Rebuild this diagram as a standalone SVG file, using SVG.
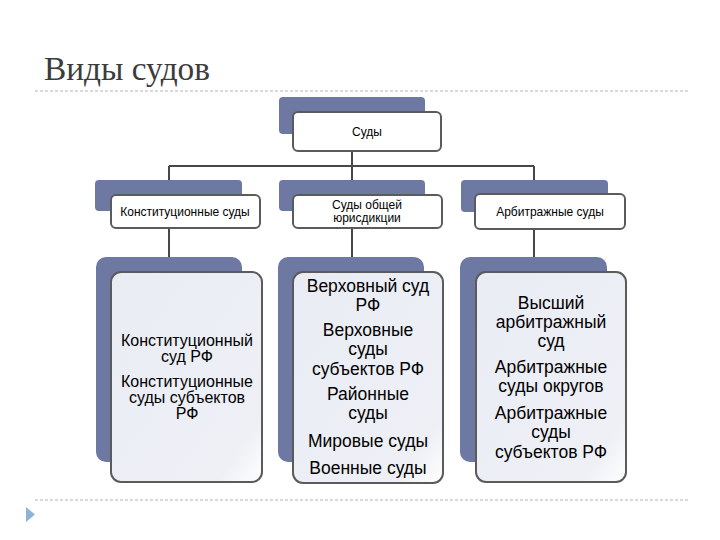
<svg xmlns="http://www.w3.org/2000/svg" width="720" height="540" viewBox="0 0 720 540">
<defs>
<linearGradient id="g" x1="0" y1="0" x2="1" y2="1">
<stop offset="0" stop-color="#eaecf4"/>
<stop offset="0.85" stop-color="#eef0f6"/>
<stop offset="1" stop-color="#ffffff"/>
</linearGradient>
</defs>
<style>
.back{fill:#6d79a2}
.front{fill:url(#g);stroke:#5b5b5b;stroke-width:2}
.front2{fill:#ffffff;stroke:#5b5b5b;stroke-width:2}
.conn{stroke:#474747;stroke-width:2;fill:none}
.dash{stroke:#b5b5b5;stroke-width:1;stroke-dasharray:3 2;fill:none}
.t{font-family:"Liberation Sans",Arial,sans-serif;fill:#000;text-anchor:middle}
.s{font-size:12px}
.m{font-size:16px}
.l{font-size:17.5px}
</style>
<rect width="720" height="540" fill="#ffffff"/>
<text x="44" y="80" font-family="Liberation Serif,serif" font-size="33" fill="#3c3c3c" textLength="166" lengthAdjust="spacingAndGlyphs">Виды судов</text>
<line class="dash" x1="35" y1="91" x2="690" y2="91"/>
<line class="dash" x1="35" y1="500" x2="690" y2="500"/>
<polygon points="26,507 35,514.5 26,522" fill="#8db3d6"/>

<g id="connectors">
<path class="conn" d="M352,151 V166 M169,166 H534 M169,166 V195 M352,166 V195 M534,166 V194"/>
<path class="conn" d="M169,228 V272 M352,228 V272 M534,229 V272"/>
</g>

<g id="n-root">
<rect class="back" x="279" y="97" width="146" height="37" rx="4"/>
<rect class="front2" x="293" y="112" width="148" height="39" rx="5"/>
<text class="t s" x="367" y="136">Суды</text>
</g>

<g id="n-const">
<rect class="back" x="95" y="180" width="147" height="31" rx="4"/>
<rect class="front2" x="111" y="195" width="149" height="33" rx="5"/>
<text class="t s" x="185" y="216">Конституционные суды</text>
</g>

<g id="n-general">
<rect class="back" x="279" y="180" width="146" height="31" rx="4"/>
<rect class="front2" x="293" y="195" width="149" height="33" rx="5"/>
<text class="t s" x="367" y="209">Суды общей</text>
<text class="t s" x="367" y="222">юрисдикции</text>
</g>

<g id="n-arb">
<rect class="back" x="461" y="180" width="147" height="32" rx="4"/>
<rect class="front2" x="475" y="194" width="150" height="35" rx="5"/>
<text class="t s" x="550" y="216">Арбитражные суды</text>
</g>

<g id="n-const-list">
<rect class="back" x="96" y="257" width="146" height="205" rx="10"/>
<rect class="front" x="111" y="272" width="151" height="210" rx="10"/>
<g class="t m">
<text x="187" y="346">Конституционный</text>
<text x="187" y="362">суд РФ</text>
<text x="187" y="387">Конституционные</text>
<text x="187" y="403">суды субъектов</text>
<text x="187" y="419">РФ</text>
</g>
</g>

<g id="n-general-list">
<rect class="back" x="278" y="257" width="146" height="205" rx="10"/>
<rect class="front" x="293" y="272" width="150" height="211" rx="10"/>
<g class="t l">
<text x="368" y="292">Верховный суд</text>
<text x="368" y="311">РФ</text>
<text x="368" y="336">Верховные</text>
<text x="368" y="355">суды</text>
<text x="368" y="375">субъектов РФ</text>
<text x="368" y="400">Районные</text>
<text x="368" y="419">суды</text>
<text x="368" y="447">Мировые суды</text>
<text x="368" y="474">Военные суды</text>
</g>
</g>

<g id="n-arb-list">
<rect class="back" x="460" y="257" width="147" height="205" rx="10"/>
<rect class="front" x="476" y="272" width="150" height="210" rx="10"/>
<g class="t l">
<text x="551" y="309">Высший</text>
<text x="551" y="328">арбитражный</text>
<text x="551" y="347">суд</text>
<text x="551" y="373">Арбитражные</text>
<text x="551" y="392">суды округов</text>
<text x="551" y="419">Арбитражные</text>
<text x="551" y="438">суды</text>
<text x="551" y="458">субъектов РФ</text>
</g>
</g>
</svg>
